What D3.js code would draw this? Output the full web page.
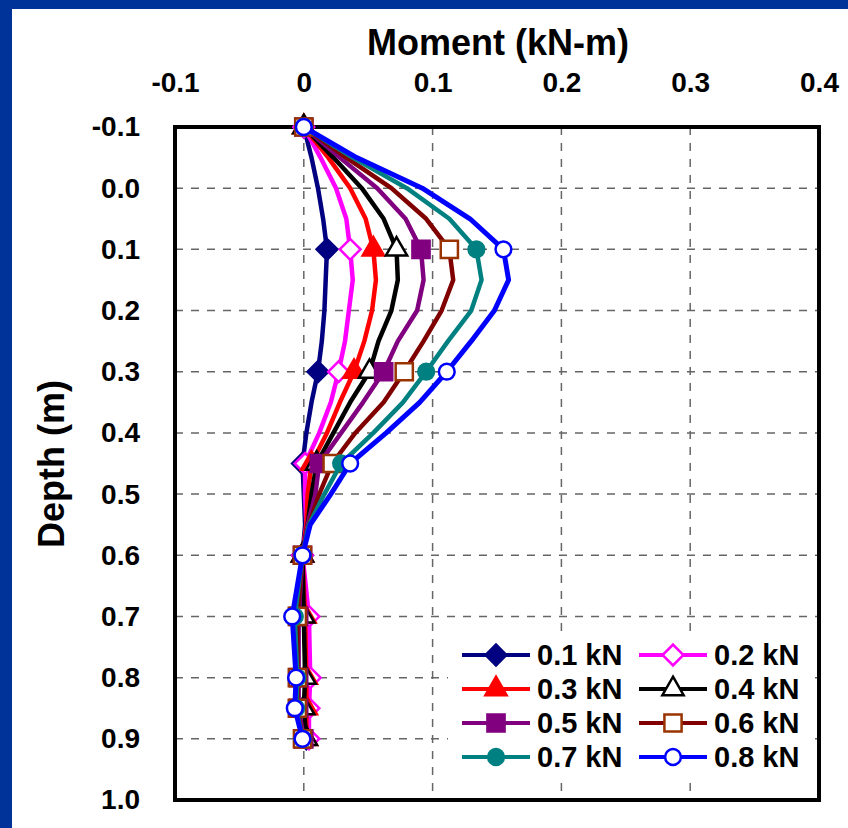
<!DOCTYPE html>
<head>
<meta charset="utf-8">
<title>Moment vs Depth</title>
<style>
body { margin: 0; background: #fff; }
svg text { font-family: "Liberation Sans", Arial, sans-serif; font-weight: bold; fill: #000; }
</style>
</head>

<body>

<svg id="chart" width="848" height="828"></svg>

<script src="https://cdn.jsdelivr.net/npm/d3@7"></script>

<script>
//-----------------------------DATA-----------------------------//
// depths (m) where the curves have a vertex
var depths = [-0.1, -0.05, 0, 0.05, 0.1, 0.15, 0.2, 0.25, 0.3, 0.35, 0.4, 0.45, 0.5, 0.55, 0.6, 0.7, 0.8, 0.85, 0.9];
// depths that carry a marker
var markerDepths = [-0.1, 0.1, 0.3, 0.45, 0.6, 0.7, 0.8, 0.85, 0.9];

var loadNames = ["0.1 kN", "0.2 kN", "0.3 kN", "0.4 kN", "0.5 kN", "0.6 kN", "0.7 kN", "0.8 kN"];

// moment (kN-m) at each depth, one array per load
var load01 = [0, 0.006, 0.011, 0.015, 0.018, 0.017, 0.016, 0.014, 0.011, 0.006, 0.002, -0.001, 0.000, 0.001, -0.001, 0.000, 0.002, 0.002, 0.002];
var load02 = [0, 0.013, 0.025, 0.033, 0.036, 0.038, 0.035, 0.032, 0.027, 0.021, 0.012, 0.001, 0.001, 0.002, -0.001, 0.004, 0.005, 0.004, 0.004];
var load03 = [0, 0.019, 0.036, 0.048, 0.054, 0.056, 0.053, 0.047, 0.039, 0.028, 0.018, 0.006, 0.003, 0.002, -0.001, 0.001, 0.002, 0.002, 0.002];
var load04 = [0, 0.023, 0.045, 0.062, 0.072, 0.073, 0.068, 0.058, 0.051, 0.036, 0.023, 0.010, 0.006, 0.003, -0.001, 0.000, 0.001, 0.000, 0.002];
var load05 = [0, 0.028, 0.057, 0.079, 0.091, 0.093, 0.088, 0.073, 0.062, 0.046, 0.029, 0.012, 0.009, 0.003, -0.001, -0.004, -0.004, -0.004, 0.000];
var load06 = [0, 0.033, 0.068, 0.095, 0.113, 0.116, 0.107, 0.093, 0.078, 0.062, 0.040, 0.022, 0.012, 0.004, -0.001, -0.005, -0.005, -0.005, -0.001];
var load07 = [0, 0.038, 0.080, 0.113, 0.134, 0.138, 0.130, 0.112, 0.095, 0.077, 0.054, 0.029, 0.016, 0.004, -0.001, -0.007, -0.005, -0.006, -0.001];
var load08 = [0, 0.041, 0.092, 0.129, 0.155, 0.159, 0.148, 0.130, 0.111, 0.090, 0.064, 0.036, 0.021, 0.005, -0.001, -0.009, -0.006, -0.007, -0.001];

var xTicks = [-0.1, 0, 0.1, 0.2, 0.3, 0.4];
var yTicks = [-0.1, 0, 0.1, 0.2, 0.3, 0.4, 0.5, 0.6, 0.7, 0.8, 0.9, 1.0];

//----------------------------STYLES----------------------------//
// line colour, marker shape, marker fill, marker stroke
var styles = [
    {color: "#000080", shape: "diamond",  fill: "#000080", stroke: "#000080"},
    {color: "#ff00ff", shape: "diamond",  fill: "#fff",    stroke: "#ff00ff"},
    {color: "#ff0000", shape: "triangle", fill: "#ff0000", stroke: "#ff0000"},
    {color: "#000000", shape: "triangle", fill: "#fff",    stroke: "#000000"},
    {color: "#800080", shape: "square",   fill: "#800080", stroke: "#800080"},
    {color: "#800000", shape: "square",   fill: "#fff",    stroke: "#993300"},
    {color: "#008080", shape: "circle",   fill: "#008080", stroke: "#008080"},
    {color: "#0000ff", shape: "circle",   fill: "#fff",    stroke: "#0000ff"}
];

//-----------------------------SVG------------------------------//
var svg = d3.select("svg");
var plot = {left: 175, right: 819, top: 127, bottom: 800};

// blue slide border (left and top)
svg.append("rect").attr("x", 0).attr("y", 0).attr("width", 848).attr("height", 9).attr("fill", "#003399");
svg.append("rect").attr("x", 0).attr("y", 0).attr("width", 12).attr("height", 828).attr("fill", "#003399");

var x = d3.scaleLinear().domain([-0.1, 0.4]).range([plot.left, plot.right]);
var y = d3.scaleLinear().domain([-0.1, 1.0]).range([plot.top, plot.bottom]);

// plain hyphen for negatives, like the original
function fmt1(d) { return d3.format(".1f")(d).replace("\u2212", "-"); }

//----------------------------GRID------------------------------//
var grid = svg.append("g")
    .attr("stroke", "#666")
    .attr("stroke-width", 1.5)
    .attr("stroke-dasharray", "8,8");

grid.selectAll(".vgrid")
    .data(xTicks.filter(function (d) { return d > -0.1 && d < 0.4; }))
    .enter().append("line")
    .attr("x1", function (d) { return x(d); })
    .attr("x2", function (d) { return x(d); })
    .attr("y1", plot.top)
    .attr("y2", plot.bottom);

grid.selectAll(".hgrid")
    .data(yTicks.filter(function (d) { return d > -0.1 && d < 1.0; }))
    .enter().append("line")
    .attr("x1", plot.left)
    .attr("x2", plot.right)
    .attr("y1", function (d) { return y(d); })
    .attr("y2", function (d) { return y(d); });

// plot frame
svg.append("rect")
    .attr("x", plot.left)
    .attr("y", plot.top)
    .attr("width", plot.right - plot.left)
    .attr("height", plot.bottom - plot.top)
    .attr("fill", "none")
    .attr("stroke", "#000")
    .attr("stroke-width", 4);

//-----------------------------AXES-----------------------------//
var xAxis = svg.append("g")
    .attr("transform", "translate(0," + plot.top + ")")
    .call(d3.axisTop(x)
        .tickValues(xTicks)
        .tickSize(0)
        .tickPadding(35)
        .tickFormat(function (d) { return d === 0 ? "0" : fmt1(d); }));
xAxis.select(".domain").remove();
xAxis.selectAll("text").style("font-size", "28px").attr("fill", "#000");

var yAxis = svg.append("g")
    .attr("transform", "translate(" + plot.left + ",0)")
    .call(d3.axisLeft(y)
        .tickValues(yTicks)
        .tickSize(0)
        .tickPadding(35)
        .tickFormat(fmt1));
yAxis.select(".domain").remove();
yAxis.selectAll("text").style("font-size", "28px").attr("fill", "#000");

svg.append("text")
    .attr("x", 498)
    .attr("y", 55)
    .attr("text-anchor", "middle")
    .style("font-size", "36px")
    .text("Moment (kN-m)");

svg.append("text")
    .attr("transform", "translate(64,464) rotate(-90)")
    .attr("text-anchor", "middle")
    .style("font-size", "36px")
    .text("Depth (m)");

//----------------------------SERIES----------------------------//
var allLoads = [load01, load02, load03, load04, load05, load06, load07, load08];

var series = allLoads.map(function (vals, i) {
    return {
        name: loadNames[i],
        style: styles[i],
        values: depths.map(function (d, j) { return {depth: d, moment: vals[j]}; })
    };
});

var symbolTypes = {
    diamond: d3.symbolSquare,
    square: d3.symbolSquare,
    triangle: d3.symbolTriangle,
    circle: d3.symbolCircle
};
var symbolSizes = {diamond: 215, square: 295, triangle: 195, circle: 195};
function markerPath(shape) {
    return d3.symbol().type(symbolTypes[shape]).size(symbolSizes[shape])();
}
function markerTransform(shape, px, py) {
    return "translate(" + px + "," + py + ")" + (shape === "diamond" ? " rotate(45)" : "");
}

var line = d3.line()
    .x(function (d) { return x(d.moment); })
    .y(function (d) { return y(d.depth); });

var group = svg.selectAll(".load")
    .data(series)
    .enter().append("g")
    .attr("class", "load");

group.append("path")
    .attr("d", function (d) { return line(d.values); })
    .attr("fill", "none")
    .attr("stroke", function (d) { return d.style.color; })
    .attr("stroke-width", function (d, i) { return i === 7 ? 5 : 4.5; })
    .attr("stroke-linejoin", "round");

group.each(function (s) {
    d3.select(this).selectAll(".marker")
        .data(s.values.filter(function (v) { return markerDepths.indexOf(v.depth) >= 0; }))
        .enter().append("path")
        .attr("class", "marker")
        .attr("d", markerPath(s.style.shape))
        .attr("transform", function (v) { return markerTransform(s.style.shape, x(v.moment), y(v.depth)); })
        .attr("fill", s.style.fill)
        .attr("stroke", s.style.stroke)
        .attr("stroke-width", 2.5);
});

//----------------------------LEGEND----------------------------//
var legend = svg.append("g");
legend.append("rect")
    .attr("x", 448).attr("y", 638)
    .attr("width", 360).attr("height", 138)
    .attr("fill", "#fff");

var item = legend.selectAll(".item")
    .data(series)
    .enter().append("g")
    .attr("class", "item")
    .attr("transform", function (d, i) {
        return "translate(" + (462 + (i % 2) * 177) + "," + (655 + Math.floor(i / 2) * 34) + ")";
    });

item.append("line")
    .attr("x1", 0).attr("x2", 68)
    .attr("y1", 0).attr("y2", 0)
    .attr("stroke", function (d) { return d.style.color; })
    .attr("stroke-width", 4);

item.append("path")
    .attr("d", function (d) { return markerPath(d.style.shape); })
    .attr("transform", function (d) { return markerTransform(d.style.shape, 34, 0); })
    .attr("fill", function (d) { return d.style.fill; })
    .attr("stroke", function (d) { return d.style.stroke; })
    .attr("stroke-width", 2.5);

item.append("text")
    .attr("x", 75)
    .attr("y", 10)
    .style("font-size", "29px")
    .text(function (d) { return d.name; });
</script>
</body>
